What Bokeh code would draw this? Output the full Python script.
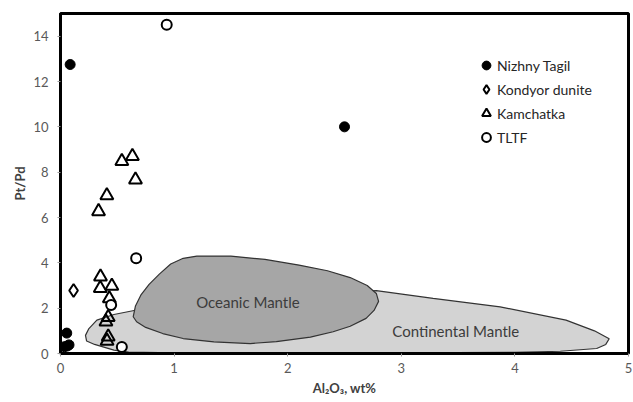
import numpy as np
from bokeh.plotting import figure
from bokeh.models import Legend, LegendItem, FixedTicker, ColumnDataSource
from bokeh.core.properties import value
from bokeh.embed import file_html
from bokeh.resources import INLINE

# ---- data ----
nizhny_x = [0.085, 2.5, 0.055, 0.075, 0.035, 0.06]
nizhny_y = [12.75, 10.0, 0.9, 0.38, 0.3, 0.33]

kondyor_x = [0.115]
kondyor_y = [2.78]

kamchatka_x = [0.54, 0.633, 0.66, 0.408, 0.335, 0.352, 0.35, 0.452, 0.43, 0.42, 0.40, 0.42, 0.41]
kamchatka_y = [8.48, 8.7, 7.67, 6.97, 6.27, 3.39, 2.88, 2.98, 2.43, 1.6, 1.4, 0.74, 0.55]

tltf_x = [0.935, 0.666, 0.446, 0.54]
tltf_y = [14.5, 4.2, 2.14, 0.29]

continental_x = [0.22, 0.25, 0.32, 0.47, 0.67, 1.2, 2.0, 2.78, 3.28, 3.87, 4.45, 4.7, 4.83,
                 4.80, 4.72, 4.4, 4.0, 3.0, 2.0, 1.0, 0.6, 0.47, 0.3, 0.23]
continental_y = [0.8, 1.1, 1.47, 1.72, 1.92, 2.3, 2.6, 2.77, 2.43, 2.06, 1.47, 1.0, 0.65,
                 0.4, 0.22, 0.1, 0.05, 0.03, 0.03, 0.03, 0.06, 0.15, 0.4, 0.55]

oceanic_x = [0.64, 0.66, 0.71, 0.78, 0.87, 0.97, 1.08, 1.2, 1.5, 1.8, 2.1, 2.35, 2.55, 2.7, 2.78,
             2.80, 2.76, 2.69, 2.55, 2.4, 2.2, 1.9, 1.67, 1.35, 1.08, 0.9, 0.75, 0.67]
oceanic_y = [1.62, 2.1, 2.6, 3.05, 3.5, 3.95, 4.2, 4.3, 4.3, 4.15, 3.9, 3.65, 3.35, 3.0, 2.65,
             2.3, 1.9, 1.55, 1.2, 0.96, 0.72, 0.52, 0.44, 0.51, 0.66, 0.88, 1.15, 1.4]

field_labels = ["Oceanic Mantle", "Continental Mantle"]
field_label_x = [1.65, 3.48]
field_label_y = [2.26, 1.0]

x_ticks = [0, 1, 2, 3, 4, 5]
y_ticks = [0, 2, 4, 6, 8, 10, 12, 14]

FONT = "Lato"

p = figure(width=633, height=400, x_range=(0, 5), y_range=(0, 15),
           output_backend="svg", toolbar_location=None,
           min_border_left=60, min_border_right=5, min_border_top=13, min_border_bottom=47)

p.xgrid.visible = False
p.ygrid.visible = False
p.outline_line_color = "black"
p.outline_line_width = 3
p.outline_line_alpha = 1
p.background_fill_color = "white"

# fields
p.patch(continental_x, continental_y, fill_color="#d3d3d3", line_color="#333333", line_width=1.2)
p.patch(oceanic_x, oceanic_y, fill_color="#a6a6a6", line_color="#333333", line_width=1.2)

src_lbl = ColumnDataSource(dict(x=field_label_x, y=field_label_y, t=field_labels))
p.text(x="x", y="y", text="t", source=src_lbl, text_align="center", text_baseline="middle",
       text_font=value(FONT), text_font_size="15px", text_color="#3c3c3c")

r_nt = p.scatter(nizhny_x, nizhny_y, marker="circle", size=10, fill_color="black", line_color="black")
r_kd = p.scatter(kondyor_x, kondyor_y, marker="diamond", size=13,
                 fill_color="white", line_color="black", line_width=2)
r_ka = p.scatter(kamchatka_x, kamchatka_y, marker="triangle", size=13,
                 fill_color=None, line_color="black", line_width=2)
r_tl = p.scatter(tltf_x, tltf_y, marker="circle", size=10,
                 fill_color="white", line_color="black", line_width=2)

legend = Legend(items=[
    LegendItem(label="Nizhny Tagil", renderers=[r_nt]),
    LegendItem(label="Kondyor dunite", renderers=[r_kd]),
    LegendItem(label="Kamchatka", renderers=[r_ka]),
    LegendItem(label="TLTF", renderers=[r_tl]),
], location=(415, 204))
legend.border_line_alpha = 0
legend.background_fill_alpha = 0
legend.padding = 0
legend.margin = 0
legend.spacing = 0
legend.glyph_width = 22
legend.glyph_height = 24
legend.label_height = 24
legend.label_standoff = 0
legend.label_text_font = FONT
legend.label_text_font_size = "14px"
legend.label_text_color = "#262626"
p.add_layout(legend, "center")

for ax in (p.xaxis[0], p.yaxis[0]):
    ax.axis_line_color = "black"
    ax.axis_line_width = 3
    ax.major_tick_line_color = "#9a9a9a"
    ax.major_tick_out = 3
    ax.major_tick_in = 0
    ax.minor_tick_line_color = None
    ax.major_label_text_font = FONT
    ax.major_label_text_font_size = "13px"
    ax.major_label_text_color = "#595959"
    ax.axis_label_text_font = FONT
    ax.axis_label_text_font_size = "13px"
    ax.axis_label_text_font_style = "bold"
    ax.axis_label_text_color = "#404040"

p.xaxis.ticker = FixedTicker(ticks=x_ticks)
p.yaxis.ticker = FixedTicker(ticks=y_ticks)
p.xaxis.axis_label = "Al₂O₃, wt%"
p.yaxis.axis_label = "Pt/Pd"
p.xaxis.major_label_standoff = 6
p.xaxis.axis_label_standoff = 4
p.yaxis.major_label_standoff = 9
p.yaxis.axis_label_standoff = 2

open("out.html", "w").write(file_html(p, INLINE))
